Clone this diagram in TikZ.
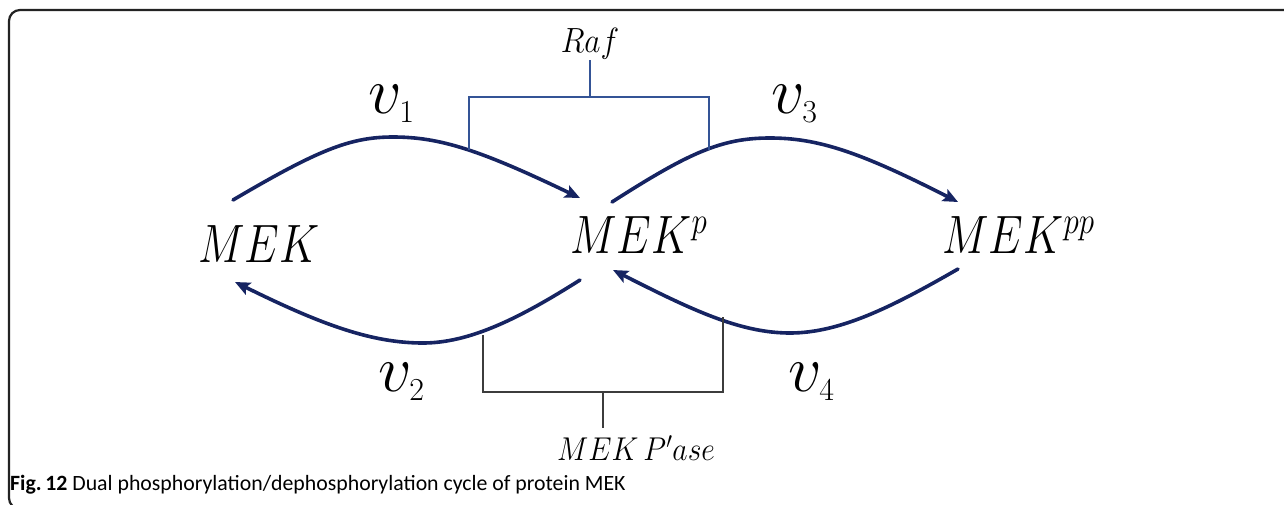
\RequirePackage{fix-cm}
\documentclass[tikz,border=0pt]{standalone}
\usepackage{fontspec}
\usepackage{graphicx}
\usetikzlibrary{arrows.meta}
\newfontfamily\capfont{Carlito}
\definecolor{navy}{RGB}{22,36,98}
\definecolor{rafblue}{RGB}{52,84,150}
\definecolor{pgray}{RGB}{60,60,60}
\definecolor{framegray}{RGB}{35,35,35}
\newcommand{\xsq}[2]{\scalebox{#1}[1]{#2}}
\newcommand{\rsub}[1]{_{\hbox{\fontsize{32}{32}\selectfont$#1$}}}
\begin{document}
\begin{tikzpicture}[x=1pt,y=-1pt,
  species/.style={inner sep=0pt, anchor=base west},
  ratelbl/.style={inner sep=0pt, anchor=base west},
  flux/.style={draw=navy, line width=3.6pt, line cap=round,
    -{Stealth[length=15pt,width=13pt,inset=3pt]}},
  rafline/.style={draw=rafblue, line width=1.5pt},
  pline/.style={draw=pgray, line width=1.5pt},
  frameline/.style={draw=framegray, line width=2.2pt, rounded corners=11pt}
]
\useasboundingbox (0,0) rectangle (1284,504);
% frame
\draw[frameline] (1300,10) -- (9,10) -- (9,509) -- (40,509);

% species
\node[species] (mek) at (198,262) {\xsq{0.82}{\fontsize{54}{60}\selectfont$MEK$}};
\node[species] (mekp) at (570,253) {\xsq{0.82}{\fontsize{54}{60}\selectfont$MEK^{p}$}};
\node[species] (mekpp) at (942,253) {\xsq{0.82}{\fontsize{54}{60}\selectfont$MEK^{pp}$}};

% rate labels
\node[ratelbl] (v1) at (368,113) {\fontsize{66}{70}\selectfont$v\rsub{1}$};
\node[ratelbl] (v3) at (771,113) {\fontsize{66}{70}\selectfont$v\rsub{3}$};
\node[ratelbl] (v2) at (378,391) {\fontsize{66}{70}\selectfont$v\rsub{2}$};
\node[ratelbl] (v4) at (788,391) {\fontsize{66}{70}\selectfont$v\rsub{4}$};

% enzymes
\node[inner sep=0pt, anchor=base] (raf) at (590,52) {\xsq{0.9}{\fontsize{35}{40}\selectfont$Raf$}};
\node[inner sep=0pt, anchor=base west] (pase) at (557,460) {\xsq{0.9}{\fontsize{33}{36}\selectfont$MEK\,P'ase$}};

% connector end points
\coordinate (mek-up) at (233,200);
\coordinate (mekp-inl) at (580,198);
\coordinate (mekp-up) at (612,202);
\coordinate (mekpp-in) at (958,202);
\coordinate (mekp-dn) at (580,280);
\coordinate (mek-in) at (235,282);
\coordinate (mekpp-dn) at (958,269);
\coordinate (mekp-inr) at (613,270);

% fluxes
\draw[flux] (mek-up) .. controls (318,150) and (350,137) .. (393,137)
  .. controls (440,137) and (480,150) .. (mekp-inl);
\draw[flux] (mekp-up) .. controls (690,152) and (722,138) .. (770,138)
  .. controls (818,138) and (860,152) .. (mekpp-in);
\draw[flux] (mekp-dn) .. controls (520,318) and (470,343) .. (423,343)
  .. controls (372,343) and (322,325) .. (mek-in);
\draw[flux] (mekpp-dn) .. controls (892,307) and (840,333) .. (790,333)
  .. controls (740,333) and (692,310) .. (mekp-inr);

% Raf bracket
\coordinate (rafL) at (469,150);
\coordinate (rafR) at (709,150);
\coordinate (rafstem) at (590,60);
\coordinate (rafjoin) at (590,97);
\draw[rafline] (rafL) -- (469,97) -- (709,97) -- (rafR);
\draw[rafline] (rafstem) -- (rafjoin);

% phosphatase bracket
\coordinate (pL) at (483,335);
\coordinate (pR) at (723,317);
\coordinate (pjoin) at (603,392);
\coordinate (pstem) at (603,428);
\draw[pline] (pL) -- (483,392) -- (723,392) -- (pR);
\draw[pline] (pjoin) -- (pstem);

% caption
\node[inner sep=0pt, anchor=base west] (cap) at (10,490)
  {\capfont\fontsize{21.8}{24}\selectfont\textbf{Fig.\,12} Dual phosphorylation/dephosphorylation cycle of protein MEK};
\end{tikzpicture}
\end{document}
